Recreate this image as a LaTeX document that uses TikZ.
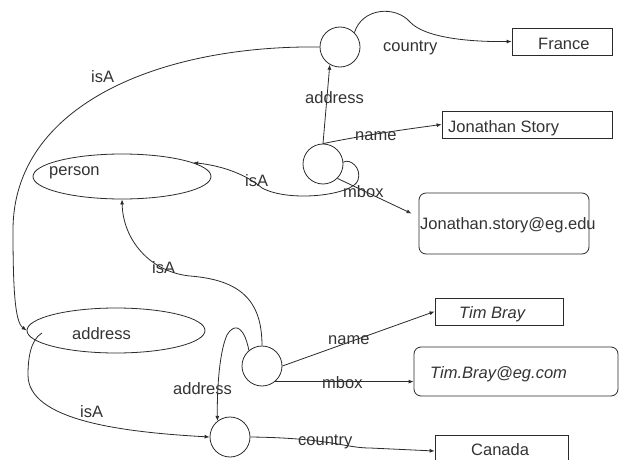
\documentclass[tikz,border=0pt]{standalone}
\usepackage{fontspec}
\setmainfont{Liberation Sans}
\usetikzlibrary{arrows.meta,calc,shapes.geometric}
\definecolor{ink}{HTML}{2B2B2B}
\definecolor{txtgray}{HTML}{333333}
\begin{document}
\begin{tikzpicture}[x=1pt,y=-1pt,
  every node/.style={font=\fontsize{16.5}{19}\selectfont, text=txtgray},
  res/.style={circle,draw=ink,line width=0.8pt,minimum size=40pt,inner sep=0pt},
  cls/.style={ellipse,draw=ink,line width=0.8pt,inner sep=0pt,minimum width=178pt,minimum height=45pt},
  lit/.style={rectangle,draw=ink,line width=0.8pt,inner sep=0pt},
  rlit/.style={rectangle,rounded corners=7pt,draw=ink,line width=0.8pt,inner sep=0pt},
  rel/.style={draw=ink,line width=0.8pt,-{Latex[length=5pt,width=4pt]}},
  txt/.style={inner sep=0pt,anchor=base west}]

\useasboundingbox[fill=white] (0,0) rectangle (619,460);

% resources (blank nodes)
\node[res] (c1) at (340,47) {};
\node[res] (c2) at (323,164) {};
\node[res] (c3) at (262,366) {};
\node[res] (c4) at (230,437) {};

% classes
\node[cls] (person) at (122,176.5) {};
\node[cls] (address) at (116,330.5) {};
\node[txt] (personlbl) at (49,175) {person};
\node[txt] (addresslbl) at (72,339) {address};

% literals
\node[lit,minimum width=100pt,minimum height=27pt] (france) at (562,41.5) {};
\node[txt] (francet) at (538,50) {France};
\node[lit,minimum width=170pt,minimum height=27pt] (jstory) at (527,124.5) {};
\node[txt] (jstoryt) at (448,132) {Jonathan Story};
\node[rlit,minimum width=170pt,minimum height=61pt] (jmail) at (504,223.5) {};
\node[txt] (jmailt) at (420,229) {Jonathan.story@eg.edu};
\node[lit,minimum width=128pt,minimum height=27pt] (tname) at (499,311.5) {};
\node[txt] (tnamet) at (459,318) {\itshape Tim Bray};
\node[rlit,minimum width=204pt,minimum height=49pt] (tmail) at (516,371.5) {};
\node[txt] (tmailt) at (430,378) {\itshape Tim.Bray@eg.com};
\node[lit,minimum width=133pt,minimum height=32pt] (canada) at (501.5,451) {};
\node[txt] (canadat) at (471,455) {Canada};

% properties
\draw[rel] (c1.45) .. controls (362,8) and (395,5) .. (410,22)
           .. controls (425,38) and (470,42) .. (france.west);
\draw[rel] (c1.west) .. controls (160,45) and (13,105) .. (13,230)
           .. controls (13,290) and (15,322) .. (address.west);
\draw[rel] (c2.north) -- (c1.240);
\draw[rel] (c2.north) .. controls (360,136) and (400,130) .. (jstory.west);
\draw[rel] (c2.-45) -- ($(jmail.west)+(-7,-10)$);
\draw[rel] (c2.5) .. controls (350,158) and (362,168) .. (358,180)
           .. controls (354,195) and (290,203) .. (262,188)
           .. controls (248,176) and (225,166) .. (person.11);
\draw[rel] (c3.north) .. controls (262,300) and (240,280) .. (190,276)
           .. controls (150,272) and (123,240) .. (person.south);
\draw[rel] (c3.130) .. controls (245,330) and (236,320) .. (227,335)
           .. controls (218,355) and (217,400) .. (c4.128);
\draw[rel] (c3.east) -- (tname.west);
\draw[rel] (c3.-50) -- (c3.-50 -| tmail.west);
\draw[rel] (c4.east) .. controls (330,438) and (345,448) .. (370,448) -- (canada.west);
\coordinate (astart) at (42,333);
\draw[rel] (astart) .. controls (30,340) and (28,360) .. (28,375)
           .. controls (28,420) and (120,432) .. (c4.west);

% property labels
\node[txt] (l1) at (383,52) {country};
\node[txt] (l2) at (91,82) {isA};
\node[txt] (l3) at (305,103) {address};
\node[txt] (l4) at (355,140) {name};
\node[txt] (l5) at (343,197) {mbox};
\node[txt] (l6) at (245,186) {isA};
\node[txt] (l7) at (152,273) {isA};
\node[txt] (l8) at (173,394) {address};
\node[txt] (l9) at (328,344) {name};
\node[txt] (l10) at (322,388) {mbox};
\node[txt] (l11) at (298,445) {country};
\node[txt] (l12) at (80,417) {isA};
\end{tikzpicture}
\end{document}
